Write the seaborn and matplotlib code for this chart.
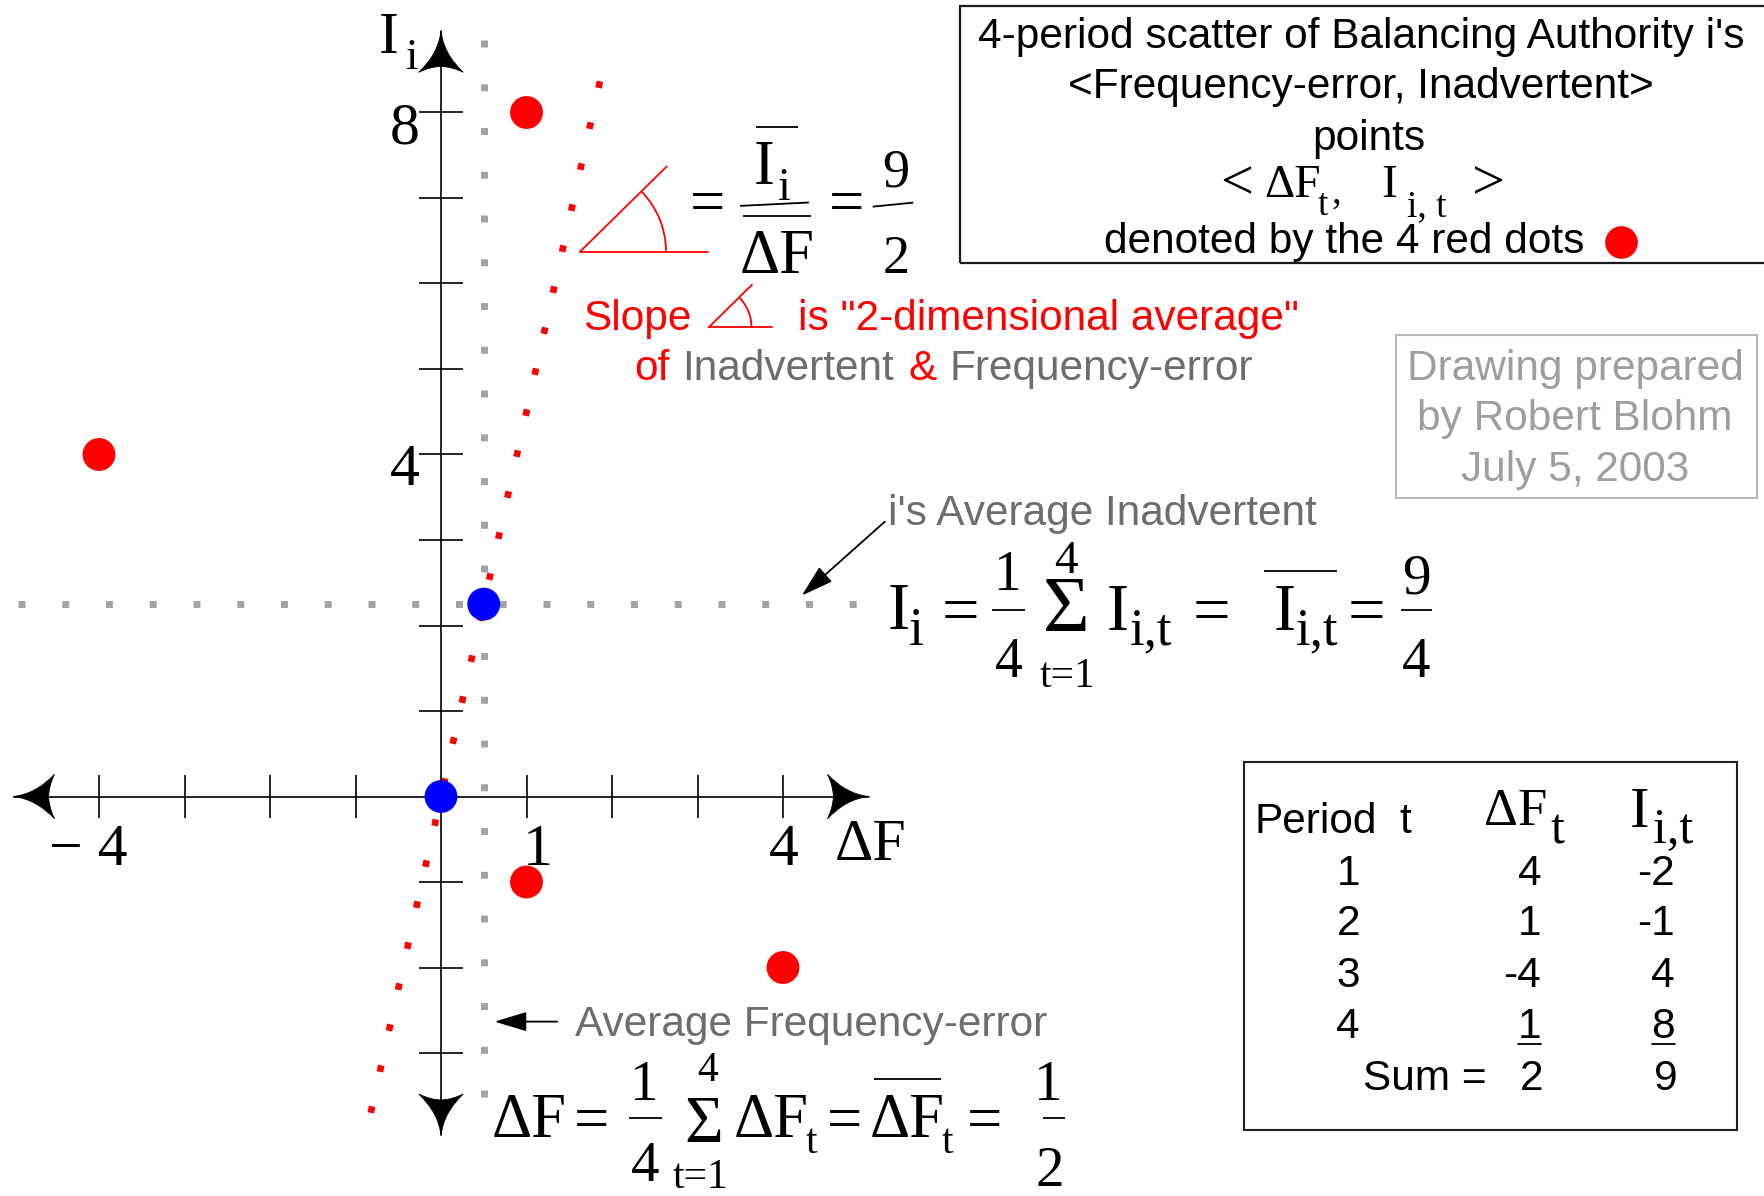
import numpy as np
import pandas as pd
import matplotlib
matplotlib.use("Agg")
import matplotlib.pyplot as plt
import seaborn as sns
from matplotlib.transforms import IdentityTransform
from matplotlib.lines import Line2D
from matplotlib.patches import Arc, Rectangle, PathPatch
from matplotlib.path import Path

# ---------------- data ----------------
periods = [1, 2, 3, 4]
freq_error = [4, 1, -4, 1]          # ΔF_t
inadvertent = [-2, -1, 4, 8]        # I_i,t

x_ticks = [-4, -3, -2, -1, 1, 2, 3, 4]
y_ticks = [-3, -2, -1, 1, 2, 3, 4, 5, 6, 7, 8]
x_tick_labels = {-4: "\u2212 4", 1: "1", 4: "4"}
y_tick_labels = {4: "4", 8: "8"}
origin = (0.0, 0.0)

df = pd.DataFrame({"period": periods, "dF": freq_error, "I": inadvertent})
mean_dF = df["dF"].mean()
mean_I = df["I"].mean()
slope = mean_I / mean_dF

# ---------------- style ----------------
sns.set_theme(style="white")
SANS = ["Liberation Sans", "DejaVu Sans"]
SERIF = ["Liberation Serif", "DejaVu Serif"]
plt.rcParams["font.family"] = SANS

INK = "#000000"
RED = "#ff0000"
BLUE = "#0000ff"
GRAY_TXT = "#6d6d6d"
GRAY_LIGHT = "#9e9e9e"
GRAY_DOT = "#a3a3a3"
SANS_PT = 30.5

W, H = 1764, 1196
S = W / 1568.0               # layout grid -> output pixels
UNIT = 76 * S                 # pixels per data unit
OX, OY = 392 * S, H - 708 * S

fig = plt.figure(figsize=(W / 100, H / 100), dpi=100)
fig.patch.set_facecolor("white")
ax = fig.add_axes([0, 0, 1, 1])
ax.set_xlim(-OX / UNIT, (W - OX) / UNIT)
ax.set_ylim(-OY / UNIT, (H - OY) / UNIT)
ax.axis("off")
ID = IdentityTransform()


def lay(px, py):
    return px * S, H - py * S


def put(px, py, s, size, color=INK, family=SERIF, ha="center", **kw):
    x, y = lay(px, py)
    return ax.text(x, y, s, transform=ID, fontsize=size, color=color,
                   family=family, ha=ha, va="baseline", **kw)


def rule(pts, color=INK, lw=1.3):
    xs, ys = zip(*[lay(*p) for p in pts])
    ax.add_line(Line2D(xs, ys, transform=ID, color=color, lw=lw,
                       solid_capstyle="butt", clip_on=False))


def angle_mark(vertex, hyp_len, base_len, radius, deg, color=RED, lw=1.3):
    vx, vy = lay(*vertex)
    a = np.deg2rad(deg)
    ax.add_line(Line2D([vx, vx + hyp_len * S * np.cos(a)],
                       [vy, vy + hyp_len * S * np.sin(a)],
                       transform=ID, color=color, lw=lw))
    ax.add_line(Line2D([vx, vx + base_len * S], [vy, vy],
                       transform=ID, color=color, lw=lw))
    ax.add_patch(Arc((vx, vy), 2 * radius * S, 2 * radius * S, theta1=0,
                     theta2=deg, transform=ID, color=color, lw=lw))


def stealth(tip, u, L=0.48, hw=0.26, notch=0.41):
    tip = np.asarray(tip, float)
    u = np.asarray(u, float)
    u = u / np.hypot(*u)
    n = np.array([-u[1], u[0]])
    b1 = tip - L * u + hw * n
    b2 = tip - L * u - hw * n
    nb = tip - notch * u
    c1 = tip - 0.55 * L * u + 0.12 * hw * n
    c2 = tip - 0.55 * L * u - 0.12 * hw * n
    k1 = (b1 + nb) / 2 + 0.03 * u
    k2 = (b2 + nb) / 2 + 0.03 * u
    verts = [tip, c1, b1, k1, nb, k2, b2, c2, tip, tip]
    codes = [Path.MOVETO, Path.CURVE3, Path.CURVE3, Path.CURVE3, Path.CURVE3,
             Path.CURVE3, Path.CURVE3, Path.CURVE3, Path.CURVE3, Path.CLOSEPOLY]
    return PathPatch(Path(verts, codes), facecolor=INK, edgecolor=INK,
                     lw=0.6, zorder=4)


# ---------------- axes with arrowheads and ticks ----------------
AX_X = (-5.0, 5.0)
AX_Y = (-3.96, 8.95)
TICK = 0.255
ax.plot(AX_X, [0, 0], color=INK, lw=1.2, zorder=3)
ax.plot([0, 0], AX_Y, color=INK, lw=1.2, zorder=3)
ax.vlines(x_ticks, -TICK, TICK, color=INK, lw=1.2, zorder=3)
ax.hlines(y_ticks, -TICK, TICK, color=INK, lw=1.2, zorder=3)
for tip, u in [((AX_X[0], 0), (-1, 0)), ((AX_X[1], 0), (1, 0)),
               ((0, AX_Y[0]), (0, -1)), ((0, AX_Y[1]), (0, 1))]:
    ax.add_patch(stealth(tip, u))

x_label_nudge = {-4: -0.12, 1: 0.13, 4: 0.01}
for v, s in x_tick_labels.items():
    ax.text(v + x_label_nudge[v], -0.80, s, ha="center", va="baseline",
            fontsize=43, family=SERIF, color=INK)
for v, s in y_tick_labels.items():
    ax.text(-0.42, v - 0.36, s, ha="center", va="baseline",
            fontsize=43, family=SERIF, color=INK)

put(346, 47, "I", 43)
put(366, 61, "i", 32)
put(742, 764, "\u0394F", 43, ha="left")

# ---------------- average guides and the slope line ----------------
DOT = dict(lw=5.0, dashes=(1.0, 5.3), dash_capstyle="butt", zorder=1)
ax.plot([mean_dF, mean_dF], [-3.52, 8.9], color=GRAY_DOT, **DOT)
ax.plot([-4.95, 4.97], [mean_I, mean_I], color=GRAY_DOT, **DOT)

ends = np.array([-3.7, 8.5])
sns.lineplot(x=ends / slope, y=ends, ax=ax, color=RED, lw=4.8, sort=False,
             linestyle=(0, (1.0, 5.3)), legend=False, zorder=2)

# ---------------- points ----------------
sns.scatterplot(data=df, x="dF", y="I", ax=ax, color=RED, s=560,
                edgecolor="none", linewidth=0, legend=False, zorder=6)
sns.scatterplot(x=[origin[0], mean_dF], y=[origin[1], mean_I], ax=ax,
                color=BLUE, s=560, edgecolor="none", linewidth=0,
                legend=False, zorder=6)
ax.set_xlabel("")
ax.set_ylabel("")
ax.set_xlim(-OX / UNIT, (W - OX) / UNIT)
ax.set_ylim(-OY / UNIT, (H - OY) / UNIT)

# ---------------- slope formula ----------------
angle_mark((515.6, 223.7), 108, 114, 76.4, 44.5)
put(629, 197, "=", 45)
put(679, 163.6, "I", 45)
put(697, 178, "i", 33)
rule([(672, 113.2), (709, 113.2)])
rule([(657.8, 183), (719, 180)])
rule([(660.7, 192), (720.6, 192)])
put(690.6, 242.7, "\u0394F", 45)
put(752, 197, "=", 45)
put(796, 166, "9", 39)
rule([(775.7, 183.7), (811.8, 180.1)])
put(797, 243, "2", 39)

put(518, 293, "Slope", SANS_PT, color=RED, family=SANS, ha="left")
angle_mark((630, 291), 54, 56, 38, 44.6)
put(709, 293, "is \"2-dimensional average\"", SANS_PT, color=RED,
    family=SANS, ha="left")
put(564, 338, "of", SANS_PT, color=RED, family=SANS, ha="left")
put(606, 338, "Inadvertent", SANS_PT, color=GRAY_TXT, family=SANS, ha="left")
put(808, 338, "&", SANS_PT, color=RED, family=SANS, ha="left")
put(844, 338, "Frequency-error", SANS_PT, color=GRAY_TXT, family=SANS,
    ha="left")

# ---------------- description box ----------------
x0, y0 = lay(853.5, 233.5)
x1, y1 = lay(1590, 5.3)
ax.add_patch(Rectangle((x0, y0), x1 - x0, y1 - y0, transform=ID,
                       fill=False, edgecolor="#1a1a1a", lw=1.6,
                       clip_on=False))
put(1210, 42.4, "4-period scatter of Balancing Authority i's", SANS_PT,
    family=SANS)
put(1210, 87.4, "<Frequency-error, Inadvertent>", SANS_PT, family=SANS)
put(1217, 133.3, "points", SANS_PT, family=SANS)
put(1099, 177, "<", 42)
put(1148.5, 175, "\u0394F", 34)
put(1176, 191, "t", 27)
put(1188, 180, ",", 28)
put(1234.7, 175, "I", 34)
put(1268, 192, "i, t", 27)
put(1323, 177, ">", 42)
put(1195, 224.6, "denoted by the 4 red dots", SANS_PT, family=SANS)
dx, dy = lay(1441, 214.8)
ax.plot([dx], [dy], "o", ms=23.5, color=RED, mec="none", transform=ID)

# ---------------- credit box ----------------
x0, y0 = lay(1241, 443)
x1, y1 = lay(1562, 298)
ax.add_patch(Rectangle((x0, y0), x1 - x0, y1 - y0, transform=ID,
                       fill=False, edgecolor="#b8b8b8", lw=1.5))
for yy, s in [(338, "Drawing prepared"), (382, "by Robert Blohm"),
              (428, "July 5, 2003")]:
    put(1400, yy, s, SANS_PT, color=GRAY_LIGHT, family=SANS)

# ---------------- average inadvertent ----------------
ARROW = dict(arrowstyle="-|>,head_length=1.0,head_width=0.3",
             mutation_scale=20, color=INK, lw=1.3, shrinkA=0, shrinkB=0)
put(789, 467, "i's Average Inadvertent", SANS_PT, color=GRAY_TXT,
    family=SANS, ha="left")
ax.annotate("", xy=(4.22, mean_I + 0.1), xycoords="data",
            xytext=lay(786.5, 463.7), textcoords=ID, arrowprops=ARROW)

put(798.8, 559.4, "I", 48)
put(814.5, 573.3, "i", 39)
put(853.7, 562, "=", 48)
put(895, 524.4, "1", 40)
rule([(881.8, 542.2), (911.5, 542.2)])
put(896.7, 601.5, "4", 40)
put(947.6, 562, "\u03a3", 58)
put(947.6, 509, "4", 34)
put(948.5, 610.4, "t=1", 30)
put(993.7, 560, "I", 48)
put(1023.3, 573, "i,t", 38)
put(1076.7, 562, "=", 48)
put(1141.5, 560, "I", 48)
put(1171.2, 573, "i,t", 38)
rule([(1123.6, 507.3), (1188.4, 507.3)])
put(1214.5, 562, "=", 48)
put(1259.2, 527.4, "9", 41)
rule([(1245.4, 542), (1273, 542)])
put(1259.2, 601.7, "4", 41)

# ---------------- average frequency error ----------------
put(511, 921, "Average Frequency-error", SANS_PT, color=GRAY_TXT,
    family=SANS, ha="left")
ax.annotate("", xy=(mean_dF + 0.125, -2.633), xycoords="data",
            xytext=(mean_dF + 0.86, -2.633), textcoords="data",
            arrowprops=ARROW)

put(470, 1010.4, "\u0394F", 45)
put(526, 1012, "=", 45)
put(573, 977.8, "1", 41)
rule([(559, 994.1), (588.3, 994.1)])
put(573.7, 1050, "4", 41)
put(625.7, 1015, "\u03a3", 48)
put(628.8, 961, "4", 30)
put(623, 1056, "t=1", 30)
put(685.2, 1010.4, "\u0394F", 45)
put(721, 1025, "t", 30)
put(750.7, 1012, "=", 45)
put(806.7, 1010.4, "\u0394F", 45)
put(842.5, 1025, "t", 30)
rule([(777, 959.4), (836.4, 959.4)])
put(875, 1012, "=", 45)
put(932, 977.8, "1", 41)
rule([(926.8, 994.1), (947, 994.1)])
put(932.7, 1054, "2", 41)

# ---------------- data table ----------------
x0, y0 = lay(1105.4, 1004.4)
x1, y1 = lay(1543.6, 677)
ax.add_patch(Rectangle((x0, y0), x1 - x0, y1 - y0, transform=ID,
                       fill=False, edgecolor="#222222", lw=1.5))
put(1115, 740.7, "Period", SANS_PT, family=SANS, ha="left")
put(1243.6, 740.7, "t", SANS_PT, family=SANS, ha="left")
put(1347.6, 733, "\u0394F", 38)
put(1384.7, 750, "t", 36)
put(1457.3, 735, "I", 42)
put(1487, 749, "i,t", 36)

row_base = [786.7, 831, 877, 923]
renderer = fig.canvas.get_renderer()
for k, (p, f, i) in enumerate(zip(periods, freq_error, inadvertent)):
    put(1198.4, row_base[k], f"{p}", SANS_PT, family=SANS)
    tf = put(1370, row_base[k], f"{f}", SANS_PT, family=SANS, ha="right")
    ti = put(1489, row_base[k], f"{i}", SANS_PT, family=SANS, ha="right")
    if k == len(periods) - 1:
        for t in (tf, ti):
            bb = t.get_window_extent(renderer=renderer)
            yy = H - (row_base[k] + 5) * S
            ax.add_line(Line2D([bb.x0, bb.x1], [yy, yy], transform=ID,
                               color=INK, lw=1.3))
put(1211.4, 968.9, "Sum =", SANS_PT, family=SANS, ha="left")
put(1371.5, 968.9, f"{df['dF'].sum()}", SANS_PT, family=SANS, ha="right")
put(1491, 968.9, f"{df['I'].sum()}", SANS_PT, family=SANS, ha="right")

fig.savefig("out.png", dpi=100, facecolor="white")
